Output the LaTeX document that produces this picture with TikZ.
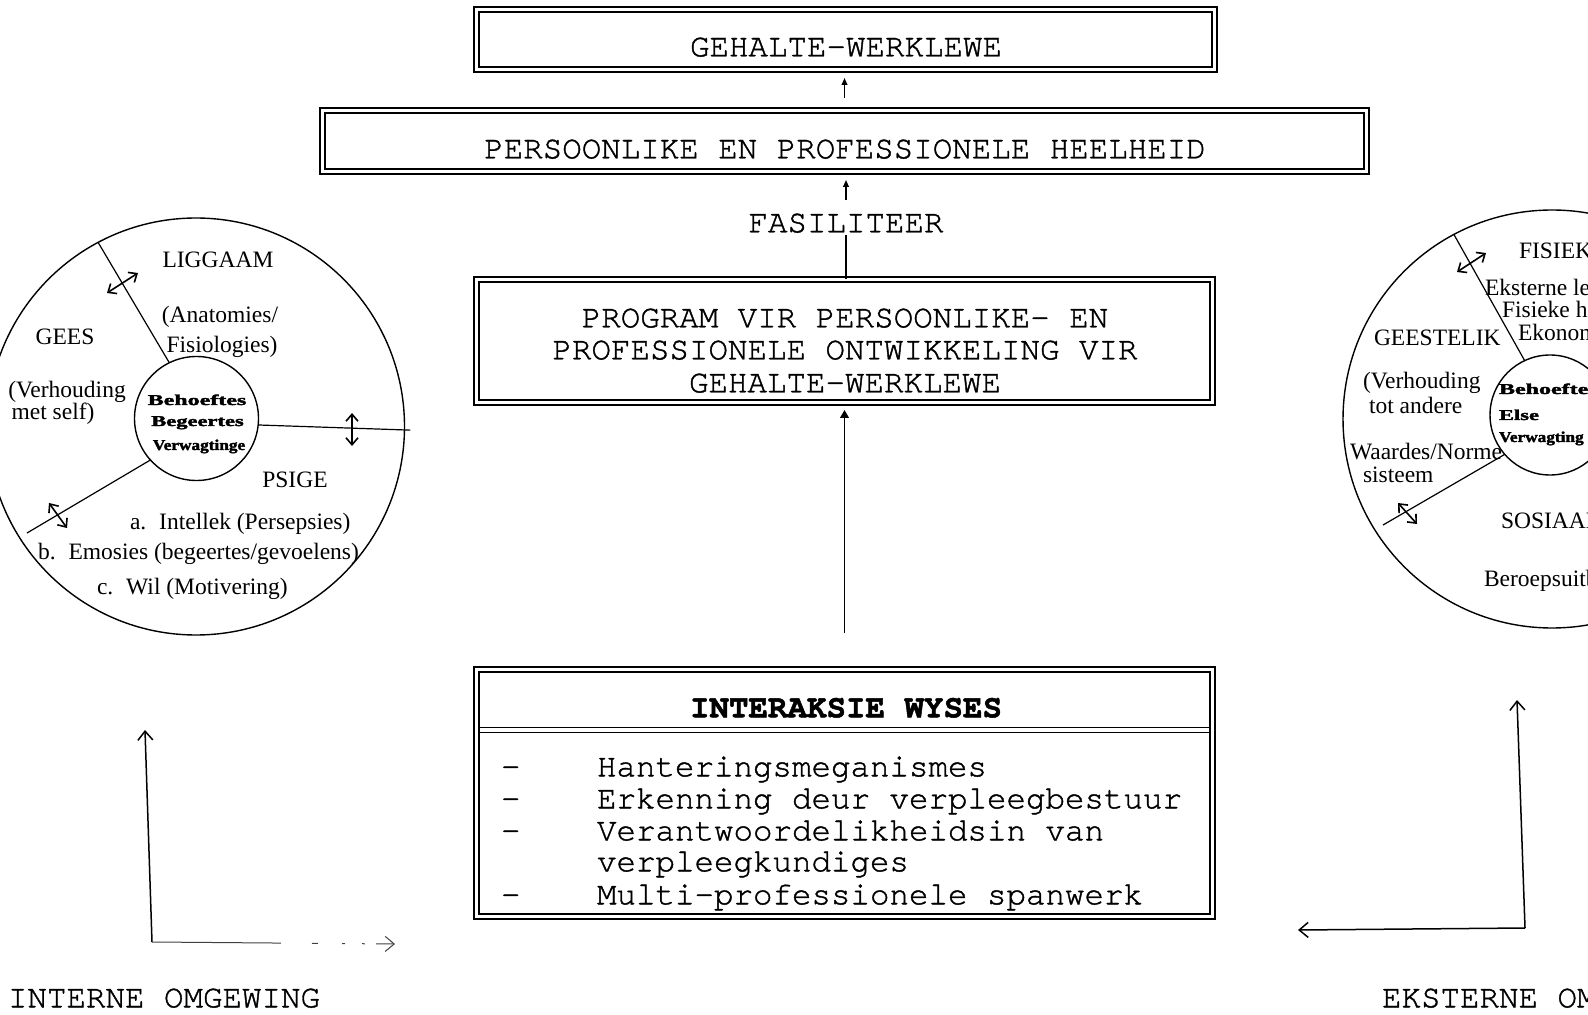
\documentclass[tikz,border=0pt]{standalone}
\usepackage{graphicx}
\usepackage{fontspec}
\setmainfont{Liberation Serif}
\newfontfamily\cour{TeX Gyre Cursor}[FakeBold=1.2]
\newfontfamily\courb{TeX Gyre Cursor Bold}[FakeBold=1.5]
\newfontfamily\widebf{Liberation Serif Bold}[FakeBold=2]
\usetikzlibrary{arrows.meta,calc}
\begin{document}
\begin{tikzpicture}[x=0.5pt,y=-0.5pt,
  dbox/.style={rectangle, draw, line width=0.9pt, double=white, double distance=1.6pt, inner sep=0pt, outer sep=0pt},
  tw/.style={font=\cour\fontsize{16.25}{16.25}\selectfont, inner sep=0pt, outer sep=0pt, text height=9.3pt, text depth=0pt},
  twb/.style={tw, font=\courb\fontsize{16.25}{16.25}\selectfont},
  rm/.style={font=\fontsize{11.75}{11.75}\selectfont, inner sep=0pt, outer sep=0pt, text height=7.8pt, text depth=0pt},
  wb/.style={font=\widebf\fontsize{7.5}{7.5}\selectfont, inner sep=0pt, outer sep=0pt, text height=5pt, text depth=0pt},
  circ/.style={circle, draw, line width=0.7pt, inner sep=0pt, outer sep=0pt},
  cline/.style={line width=0.6pt},
  sarr/.style={line width=0.7pt, -{Triangle[length=3.4pt,width=2.8pt]}},
  larr/.style={line width=0.7pt, -{Triangle[length=4pt,width=4.4pt]}},
  darr/.style={line width=0.8pt, {Straight Barb[length=3.5pt,width=6pt]}-{Straight Barb[length=3.5pt,width=6pt]}},
  barr/.style={line width=0.75pt, -{Straight Barb[length=4.5pt,width=7.5pt]}}
]
\useasboundingbox (0,0) rectangle (1588,1015);
\clip (0,0) rectangle (1588,1015);

% ---------- central column ----------
\node[dbox, minimum width=369pt, minimum height=30pt] (top) at (845.5,39.5) {};
\node[tw] (tGW) at (846,47) {GEHALTE-WERKLEWE};

\node[dbox, minimum width=522pt, minimum height=30.5pt] (heel) at (844.5,141) {};
\node[tw] (tPH) at (845,149) {PERSOONLIKE EN PROFESSIONELE HEELHEID};

\node[tw] (fas) at (846,223) {FASILITEER};

\node[dbox, minimum width=368pt, minimum height=61.5pt] (prog) at (844.5,341) {};
\node[tw] (p1) at (845,318) {PROGRAM VIR PERSOONLIKE- EN};
\node[tw] (p2) at (845,350) {PROFESSIONELE ONTWIKKELING VIR};
\node[tw] (p3) at (845,383) {GEHALTE-WERKLEWE};

\draw[line width=0.9pt, double=white, double distance=1.6pt] (476.5,730) -- (1212.5,730);
\node[dbox, minimum width=368pt, minimum height=123.5pt] (inter) at (844.5,793) {};
\node[twb] (ih) at (846,708) {INTERAKSIE WYSES};
\node[tw,anchor=west] (d1) at (501,767) {-};
\node[tw,anchor=west] (i1) at (597,767) {Hanteringsmeganismes};
\node[tw,anchor=west] (d2) at (501,799) {-};
\node[tw,anchor=west] (i2) at (597,799) {Erkenning deur verpleegbestuur};
\node[tw,anchor=west] (d3) at (501,831) {-};
\node[tw,anchor=west] (i3) at (597,831) {Verantwoordelikheidsin van};
\node[tw,anchor=west] (i3b) at (597,862) {verpleegkundiges};
\node[tw,anchor=west] (d4) at (501,895) {-};
\node[tw,anchor=west] (i4) at (597,895) {Multi-professionele spanwerk};

\draw[sarr, shorten <=6.25pt, shorten >=4.25pt] (heel.north) -- (heel.north |- top.south);
\draw[sarr, shorten <=6.85pt, shorten >=4.25pt] (fas.north) -- (fas.north |- heel.south);
\draw[line width=0.8pt, shorten <=1.35pt] (fas.south) -- (fas.south |- prog.north);
\draw[larr, shorten <=18.25pt, shorten >=3.75pt] (inter.north) -- (inter.north |- prog.south);

% ---------- left circle (intern) ----------
\node[circ, minimum size=208.5pt] (lc) at (196,426.5) {};
\node[circ, minimum size=62pt] (lci) at (196.5,418.5) {};
\draw[cline] (lci.116) -- (lc.118);
\draw[cline] (lci.-6) -- ($(lc.-1)+(6,0)$);
\coordinate (lcend) at (27,533);
\draw[cline] (lci.222) -- (lcend);
\draw[darr] (107,293) -- (138,273);
\draw[darr] (352,413) -- (352,446);
\draw[darr] (49,503) -- (67,528);

\node[wb] (lb1) at (197,400) {\scalebox{1.6}[1]{Behoeftes}};
\node[wb] (lb2) at (197.5,421) {\scalebox{1.5}[1]{Begeertes}};
\node[wb] (lb3) at (199,445) {\scalebox{1.15}[1]{Verwagtinge}};

\node[rm] (liggaam) at (218,260) {LIGGAAM};
\node[rm] (anat) at (220,315) {(Anatomies/};
\node[rm] (fisi) at (222,345) {Fisiologies)};
\node[rm] (gees) at (65,337) {GEES};
\node[rm] (verh) at (67,390) {(Verhouding};
\node[rm] (mets) at (53,412) {met self)};
\node[rm] (psige) at (295,480) {PSIGE};
\node[rm,anchor=west] (la) at (130,522) {a.\hspace{0.55em}Intellek (Persepsies)};
\node[rm,anchor=west] (lb) at (38,552) {b.\hspace{0.55em}Emosies (begeertes/gevoelens)};
\node[rm,anchor=west] (lcw) at (97,587) {c.\hspace{0.55em}Wil (Motivering)};

% ---------- right circle (ekstern) ----------
\node[circ, minimum size=209pt] (rc) at (1552,419) {};
\node[circ, minimum size=60pt] (rci) at (1550,415) {};
\draw[cline] (rci.115) -- (rc.118);
\coordinate (rcend) at (1383,525);
\draw[cline] (rci.221) -- (rcend);
\draw[darr] (1457,272) -- (1486,253);
\draw[darr] (1398,503) -- (1417,524);

\node[wb,anchor=west] (rb1) at (1499,389) {\scalebox{1.6}[1]{Behoefte}};
\node[wb,anchor=west] (rb2) at (1499,415) {\scalebox{1.5}[1]{Else}};
\node[wb,anchor=west] (rb3) at (1499,437) {\scalebox{1.15}[1]{Verwagting}};

\node[rm,anchor=west] (fisiek) at (1519,251) {FISIEK};
\node[rm,anchor=west] (ekst) at (1485,288) {Eksterne le};
\node[rm,anchor=west] (fish) at (1502,310) {Fisieke h};
\node[rm,anchor=west] (ekon) at (1518,333) {Ekonom};
\node[rm,anchor=west] (geest) at (1374,338) {GEESTELIK};
\node[rm,anchor=west] (rverh) at (1363,381) {(Verhouding};
\node[rm,anchor=west] (tota) at (1369,406) {tot andere};
\node[rm,anchor=west] (waard) at (1350,452) {Waardes/Norme};
\node[rm,anchor=west] (sist) at (1363,475) {sisteem};
\node[rm,anchor=west] (sos) at (1501,521) {SOSIAAL};
\node[rm,anchor=west] (ber) at (1484,579) {Beroepsuitb};

% ---------- bottom arrows ----------
\coordinate (ilc) at (152,942);
\coordinate (ilt) at (145,730);
\coordinate (ilr) at (395,944);
\draw[barr] (ilc) -- (ilt);
\draw[barr, line width=0.5pt, black!75, dash pattern=on 64.5pt off 15.5pt on 3pt off 12pt on 1.5pt off 8.5pt on 1.5pt off 5.5pt on 20pt] (ilc) -- (ilr);

\coordinate (erc) at (1525,928);
\coordinate (ert) at (1517,700);
\coordinate (erl) at (1298,930);
\draw[barr] (erc) -- (ert);
\draw[barr] (erc) -- (erl);

\node[tw,anchor=west] (intern) at (8,998) {INTERNE OMGEWING};
\node[tw,anchor=west] (extern) at (1382,998) {EKSTERNE OM};
\end{tikzpicture}
\end{document}
